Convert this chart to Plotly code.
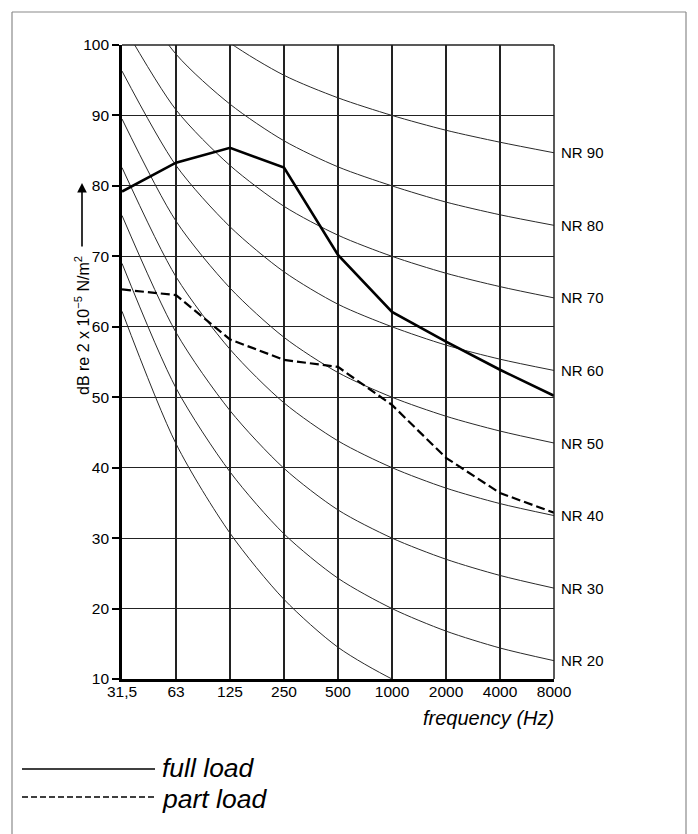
import plotly.graph_objects as go

freq_labels = ["31,5", "63", "125", "250", "500", "1000", "2000", "4000", "8000"]
xpos = list(range(len(freq_labels)))

full_load = [79.2, 83.3, 85.4, 82.6, 70.2, 62.1, 57.9, 53.9, 50.2]
part_load = [65.3, 64.5, 58.2, 55.3, 54.3, 48.9, 41.4, 36.4, 33.6]

nr10 = [62.2, 43.4, 30.7, 21.3, 14.5, 10.0, 6.7, 4.2, 2.3]
nr20 = [69.0, 51.3, 39.4, 30.6, 24.3, 20.0, 16.8, 14.4, 12.6]
nr30 = [75.8, 59.2, 48.1, 39.9, 34.0, 30.0, 27.0, 24.7, 22.9]
nr40 = [82.6, 67.1, 56.8, 49.2, 43.8, 40.0, 37.1, 34.9, 33.2]
nr50 = [89.5, 75.0, 65.5, 58.5, 53.5, 50.0, 47.3, 45.2, 43.5]
nr60 = [96.3, 82.9, 74.2, 67.8, 63.2, 60.0, 57.4, 55.4, 53.8]
nr70 = [103.1, 90.8, 82.9, 77.1, 73.0, 70.0, 67.6, 65.7, 64.1]
nr80 = [109.9, 98.7, 91.6, 86.4, 82.7, 80.0, 77.7, 75.9, 74.4]
nr90 = [116.7, 106.6, 100.3, 95.7, 92.5, 90.0, 87.9, 86.2, 84.7]

nr_curves = [("", nr10), ("NR 20", nr20), ("NR 30", nr30), ("NR 40", nr40),
             ("NR 50", nr50), ("NR 60", nr60), ("NR 70", nr70),
             ("NR 80", nr80), ("NR 90", nr90)]

y_ticks = [10, 20, 30, 40, 50, 60, 70, 80, 90, 100]

FONT = "Liberation Sans, Arial, sans-serif"

# page offset (browser body margin) compensation
OFF = 8
L, T, PW, PH = 122 - OFF, 45 - OFF, 432, 634
BOTTOM = 679  # screen y of plot bottom
LEFT = 122    # screen x of plot left


def px(xs):
    return (xs - LEFT) / PW


def py(ys):
    return (BOTTOM - ys) / PH


fig = go.Figure()

for name, vals in nr_curves:
    fig.add_trace(go.Scatter(x=xpos, y=vals, mode="lines",
                             line=dict(color="#2a2a2a", width=1, shape="spline", smoothing=0.8),
                             hoverinfo="skip", showlegend=False))

fig.add_trace(go.Scatter(x=xpos, y=full_load, mode="lines", line=dict(color="black", width=2.6),
                         name="full load", showlegend=False))
fig.add_trace(go.Scatter(x=xpos, y=part_load, mode="lines", line=dict(color="black", width=2.2, dash="9px,4px"),
                         name="part load", showlegend=False))

annotations = []
for name, vals in nr_curves:
    if name:
        annotations.append(dict(x=xpos[-1], y=vals[-1], xref="x", yref="y", text=name, showarrow=False,
                                xanchor="left", yanchor="middle", xshift=5,
                                font=dict(family=FONT, size=15, color="black")))

annotations.append(dict(x=px(86), y=py(326), xref="paper", yref="paper", xanchor="right", xshift=8,
                        text="dB re 2 x 10<sup>−5</sup> N/m<sup>2</sup>", textangle=-90, showarrow=False,
                        font=dict(family=FONT, size=16, color="black")))
annotations.append(dict(x=px(82), y=py(183), xref="paper", yref="paper",
                        ax=0, ay=65, text="", showarrow=True, arrowhead=2, arrowsize=1.2, arrowwidth=1.6,
                        arrowcolor="black"))
annotations.append(dict(x=px(556), y=py(718), xref="paper", yref="paper",
                        text="<i>frequency (Hz)</i>", showarrow=False, xanchor="right", yanchor="middle",
                        font=dict(family=FONT, size=20, color="black")))
annotations.append(dict(x=px(160), y=py(768), xref="paper", yref="paper",
                        text="<i>full load</i>", showarrow=False, xanchor="left", yanchor="middle",
                        font=dict(family=FONT, size=26.5, color="black")))
annotations.append(dict(x=px(160), y=py(799), xref="paper", yref="paper",
                        text="<i>part load</i>", showarrow=False, xanchor="left", yanchor="middle",
                        font=dict(family=FONT, size=26.5, color="black")))

shapes = [
    dict(type="line", xref="paper", yref="paper", x0=px(22), x1=px(155),
         y0=py(769), y1=py(769), line=dict(color="black", width=1.3)),
    dict(type="line", xref="paper", yref="paper", x0=px(22), x1=px(155),
         y0=py(797), y1=py(797), line=dict(color="black", width=1.3, dash="6px,3px")),
    dict(type="line", xref="paper", yref="paper", x0=px(12), x1=px(12),
         y0=py(12), y1=py(840), line=dict(color="#8a8a8a", width=1.2)),
    dict(type="line", xref="paper", yref="paper", x0=px(12), x1=px(686),
         y0=py(12), y1=py(12), line=dict(color="#8a8a8a", width=1.2)),
    dict(type="line", xref="paper", yref="paper", x0=px(686), x1=px(686),
         y0=py(12), y1=py(840), line=dict(color="#8a8a8a", width=1.2)),
    dict(type="line", xref="paper", yref="paper", x0=0, x1=1, y0=1, y1=1, line=dict(color="#222", width=1.3)),
    dict(type="line", xref="paper", yref="paper", x0=1, x1=1, y0=0, y1=1, line=dict(color="#222", width=1.5)),
]

fig.update_layout(
    width=698 - OFF, height=834 - OFF,
    margin=dict(l=L, r=698 - OFF - L - PW, t=T, b=834 - OFF - T - PH),
    paper_bgcolor="white", plot_bgcolor="white",
    font=dict(family=FONT, color="black"),
    annotations=annotations, shapes=shapes,
    showlegend=False,
)
fig.update_xaxes(range=[0, 8], tickvals=xpos, ticktext=freq_labels, showgrid=True, gridcolor="#222",
                 gridwidth=1.5, showline=True, linecolor="black", linewidth=2.6, ticks="",
                 ticklabelstandoff=-3,
                 tickfont=dict(family=FONT, size=15.5, color="black"), zeroline=False, fixedrange=True)
fig.update_yaxes(range=[10, 100], tickvals=y_ticks, showgrid=True, gridcolor="#222", gridwidth=1.2,
                 showline=True, linecolor="black", linewidth=2.6, ticks="outside", ticklen=7, tickwidth=1.5,
                 tickcolor="black", tickfont=dict(family=FONT, size=15.5, color="black"), zeroline=False,
                 fixedrange=True)

fig.write_html("out.html")
